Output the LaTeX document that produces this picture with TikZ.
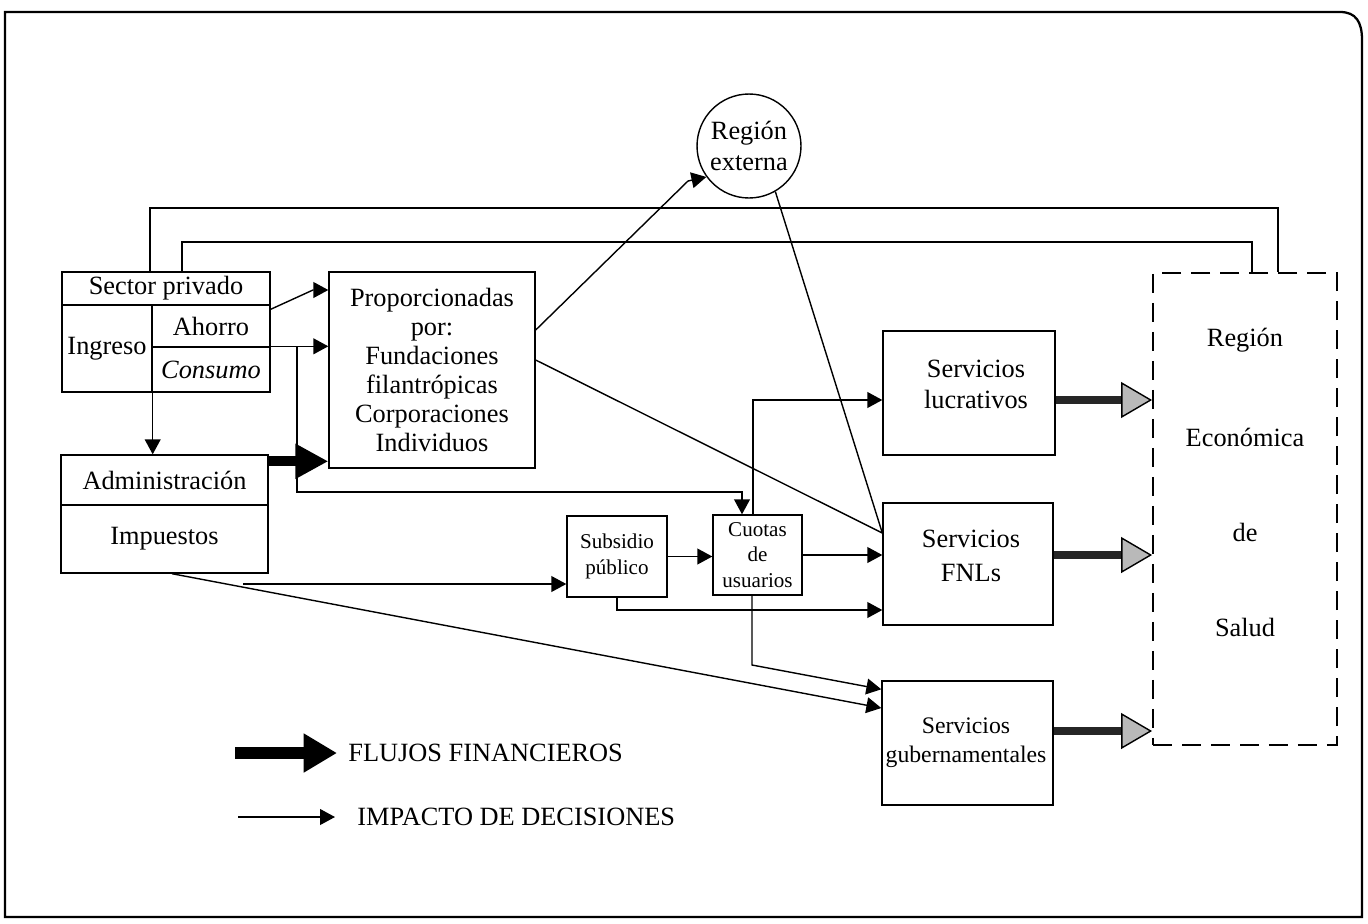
\documentclass[tikz,border=0pt]{standalone}
\usepackage{fontspec}
\setmainfont{Liberation Serif}
\usetikzlibrary{arrows.meta,calc}
\newcommand\ftA{\fontsize{15}{17}\selectfont}
\newcommand\ftP{\fontsize{15}{16.4}\selectfont}
\begin{document}
\begin{tikzpicture}[x=0.02cm,y=-0.02cm,
  box/.style={draw, line width=0.8pt, inner sep=0pt, align=center},
  txt/.style={align=center, inner sep=0pt},
  arr/.style={line width=0.8pt, -{Triangle[length=8.5pt,width=9pt]}},
  ln/.style={line width=0.8pt},
  flow/.style={line width=5.7pt, -{Triangle[length=18.7pt,width=18.7pt]}},
  gflow/.style={line width=4.5pt, draw=black!85, -{Triangle[length=17.6pt,width=20.4pt,fill=gray!55,color=black,line width=0.8pt]}},
  lflow/.style={line width=6.5pt, draw=black, -{Triangle[length=19pt,width=21pt]}},
]
\useasboundingbox (0,0) rectangle (1368,923);
% outer frame
\draw[line width=1.3pt] (5,917) -- (5,12) -- (1340,12) .. controls (1356,12) and (1362,22) .. (1362,40) -- (1362,917) -- cycle;

% nodes
\node[box, minimum width=4.16cm, minimum height=0.66cm, font=\ftA] (sp) at (166,288.5) {Sector privado};
\node[box, minimum width=1.8cm, minimum height=1.74cm, font=\ftA] (ing) at (107,348.5) {Ingreso};
\node[box, minimum width=2.36cm, minimum height=0.84cm, font=\ftA] (aho) at (211,326) {Ahorro};
\node[box, minimum width=2.36cm, minimum height=0.9cm, font=\ftA\itshape] (con) at (211,369.5) {Consumo};
\node[box, minimum width=4.14cm, minimum height=1.0cm, font=\ftA] (adm) at (164.5,480) {Administración};
\node[box, minimum width=4.14cm, minimum height=1.36cm, font=\ftA] (imp) at (164.5,539) {Impuestos};
\node[box, minimum width=4.12cm, minimum height=3.92cm, font=\ftP] (prop) at (432,370) {Proporcionadas\\por:\\Fundaciones\\filantrópicas\\Corporaciones\\Individuos};
\node[draw, circle, line width=0.8pt, minimum size=2.08cm, inner sep=0pt, align=center, font=\fontsize{15}{18}\selectfont] (ext) at (749,146) {Región\\externa};
\node[box, minimum width=2.0cm, minimum height=1.62cm, font=\fontsize{12}{15}\selectfont] (sub) at (617,556.5) {Subsidio\\público};
\node[box, minimum width=1.78cm, minimum height=1.6cm, font=\fontsize{12}{14.5}\selectfont] (cuo) at (757.5,555) {Cuotas\\de\\usuarios};
\node[box, minimum width=3.44cm, minimum height=2.48cm] (luc) at (969,393) {};
\node[txt, font=\fontsize{15}{17.6}\selectfont] (lucT) at (976,384) {Servicios\\lucrativos};
\node[box, minimum width=3.4cm, minimum height=2.44cm] (fnl) at (968,564) {};
\node[txt, font=\fontsize{15}{19}\selectfont] (fnlT) at (971,556) {Servicios\\FNLs};
\node[box, minimum width=3.42cm, minimum height=2.48cm] (gob) at (967.5,743) {};
\node[txt, font=\fontsize{13.5}{16.4}\selectfont] (gobT) at (966,743) {Servicios\\gubernamentales};
\node[draw, dash pattern=on 11pt off 5.5pt, line width=1.1pt, inner sep=0pt, minimum width=3.68cm, minimum height=9.44cm] (reg) at (1245,509) {};
\node[txt, font=\ftA] (regA) at (1245,340) {Región};
\node[txt, font=\ftA] (regB) at (1245,437) {Económica};
\node[txt, font=\ftA] (regC) at (1245,532) {de};
\node[txt, font=\ftA] (regD) at (1245,627) {Salud};

% helper coordinates
\coordinate (k1) at (150,208);
\coordinate (k2) at (1278,208);
\coordinate (k3) at (182,242);
\coordinate (k4) at (1252,242);
\coordinate (k5) at (313,290);
\coordinate (k6) at (297,492);
\coordinate (k7) at (742,492);
\coordinate (k9) at (688,181);
\coordinate (k12) at (243,584);
\coordinate (k13) at (617,610);
\coordinate (k14) at (752,665);
\coordinate (k15) at (753,400);
\coordinate (kf) at ([yshift=0.62cm]fnl.west);

% long lines to the health region
\draw[ln] (sp.north -| k1) -- (k1) -- (k2) -- (reg.north -| k2);
\draw[ln] (sp.north -| k3) -- (k3) -- (k4) -- (reg.north -| k4);

% decision arrows
\draw[arr] ([yshift=-0.1cm]aho.north east) -- (k5) -- (prop.west |- k5);
\draw[arr] (con.north east) -- (prop.west |- con.north east);
\draw[arr] (k6 |- con.north east) -- (k6) -- (k7) -- (cuo.north -| k7);
\draw[arr] (ing.south east) -- (adm.north -| ing.south east);
\draw[arr] ([yshift=0.8cm]prop.east) -- (k9) -- (ext.216);
\draw[ln] (ext.-60) -- (kf);
\draw[ln] ([yshift=0.2cm]prop.east) -- (kf);
\draw[arr] ([xshift=0.15cm]imp.south) -- ([yshift=0.7cm]gob.west);
\draw[arr] (k12) -- (sub.west |- k12);
\draw[arr] (sub.east) -- (cuo.west |- sub.east);
\draw[arr] (cuo.east) -- (fnl.west |- cuo.east);
\draw[arr] (sub.south) -- (k13) -- (fnl.west |- k13);
\draw[arr] (cuo.south -| k14) -- (k14) -- ([yshift=-0.18cm]gob.north west);
\draw[arr] (cuo.north -| k15) -- (k15) -- (luc.west |- k15);

% financial flows
\coordinate (fa) at ([yshift=-0.14cm]adm.north east);
\coordinate (fb) at ([yshift=-0.14cm]luc.east);
\coordinate (fc) at ([yshift=0.18cm]fnl.east);
\coordinate (fd) at ([yshift=0.24cm]gob.east);
\draw[flow] (fa) -- (prop.west |- fa);
\draw[gflow] (fb) -- (reg.west |- fb);
\draw[gflow] (fc) -- (reg.west |- fc);
\draw[gflow] (fd) -- (reg.west |- fd);

% legend
\coordinate (l1) at (235,753);
\coordinate (l2) at (337,753);
\coordinate (l3) at (238,817);
\coordinate (l4) at (335,817);
\draw[lflow] (l1) -- (l2);
\draw[arr] (l3) -- (l4);
\node[anchor=west, inner sep=0pt, font=\ftA] (legA) at (348,753) {FLUJOS FINANCIEROS};
\node[anchor=west, inner sep=0pt, font=\ftA] (legB) at (357,817) {IMPACTO DE DECISIONES};
\end{tikzpicture}
\end{document}
